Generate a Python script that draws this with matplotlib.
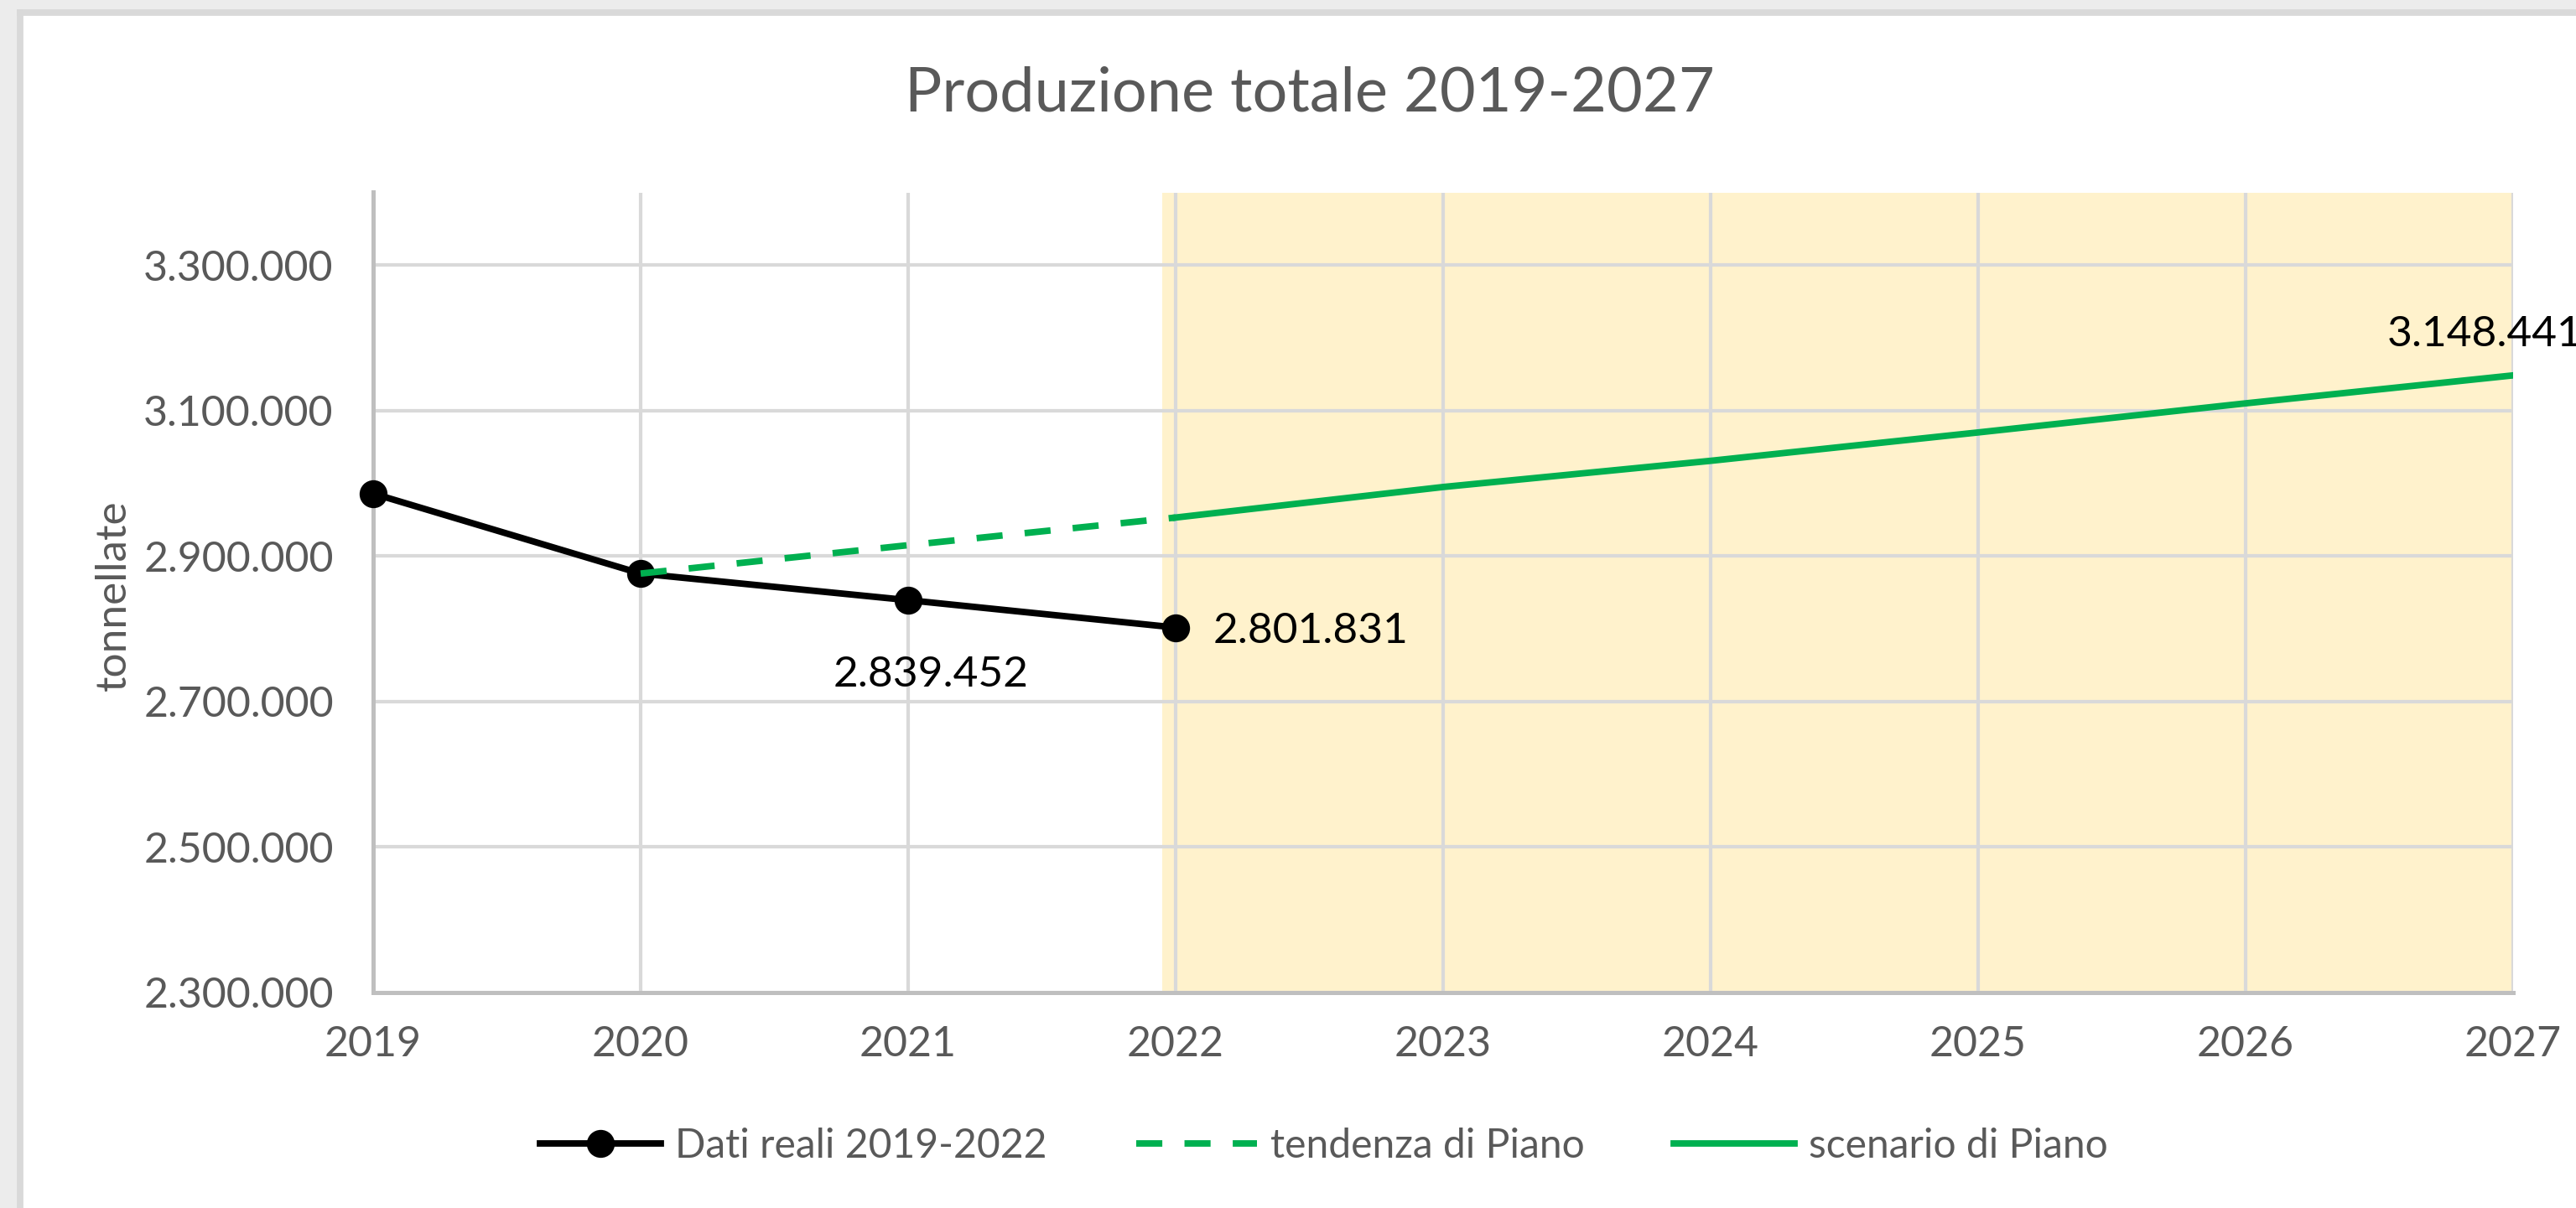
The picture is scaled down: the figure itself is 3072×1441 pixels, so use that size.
"""Produzione totale 2019-2027: dati reali, tendenza e scenario di Piano."""
import matplotlib
matplotlib.use("Agg")
import matplotlib.pyplot as plt
from matplotlib.patches import Rectangle
from matplotlib.ticker import FuncFormatter

plt.rcParams["font.family"] = ["Lato", "DejaVu Sans"]

years = [2019, 2020, 2021, 2022, 2023, 2024, 2025, 2026, 2027]

real_years = [2019, 2020, 2021, 2022]
real_vals = [2986000, 2876000, 2839452, 2801831]

trend_years = [2020, 2021, 2022]
trend_vals = [2876000, 2915000, 2953000]

scen_years = [2022, 2023, 2024, 2025, 2026, 2027]
scen_vals = [2953000, 2995000, 3031000, 3070000, 3110000, 3148441]

yticks = [2300000, 2500000, 2700000, 2900000, 3100000, 3300000]

labels = [
    # (year, value, text, dx_pt, dy_pt, ha)
    (2021, 2839452, "2.839.452", 9.7, -37.0, "center"),
    (2022, 2801831, "2.801.831", 16.0, -6.8, "left"),
    (2027, 3148441, "3.148.441", -54.0, 12.6, "left"),
]

W, H, DPI = 3072, 1441, 200
GREEN = "#00B050"
GREY_TXT = "#595959"

fig = plt.figure(figsize=(W / DPI, H / DPI), dpi=DPI, facecolor="white")

# outer frame (light grey canvas + border like the Excel screenshot)
fig.patches.append(Rectangle((0, 0), 21 / W, 1, transform=fig.transFigure,
                             color="#ECECEC", zorder=0))
fig.patches.append(Rectangle((0, 1 - 12 / H), 1, 12 / H, transform=fig.transFigure,
                             color="#ECECEC", zorder=0))
fig.patches.append(Rectangle((21 / W, 0), 5 / W, 1 - 12 / H, transform=fig.transFigure,
                             color="#D9D9D9", zorder=0))
fig.patches.append(Rectangle((21 / W, 1 - 17 / H), 1, 5 / H, transform=fig.transFigure,
                             color="#D9D9D9", zorder=0))

ax = fig.add_axes([445 / W, 1 - 1184 / H, (2997 - 445) / W, (1184 - 229.5) / H])
ax.set_facecolor("none")

ax.axvspan(2021.95, 2027, color="#FFF2CC", zorder=0.1, lw=0)

ax.plot(real_years, real_vals, color="black", lw=2.8, marker="o", ms=11,
        zorder=3, clip_on=False, label="Dati reali 2019-2022")
ax.plot(trend_years, trend_vals, color=GREEN, lw=2.8, dashes=(4.0, 3.4),
        dash_capstyle="butt", zorder=4, label="tendenza di Piano")
ax.plot(scen_years, scen_vals, color=GREEN, lw=2.8, zorder=4, label="scenario di Piano")

for x, y, txt, dx, dy, ha in labels:
    ax.annotate(txt, (x, y), xytext=(dx, dy), textcoords="offset points",
                ha=ha, va="baseline", fontsize=18.5, color="black",
                annotation_clip=False, zorder=6)

ax.set_xlim(2019, 2027)
ax.set_ylim(2300000, 3400000)
ax.set_xticks(years)
ax.set_yticks(yticks)
ax.yaxis.set_major_formatter(FuncFormatter(lambda v, p: f"{v:,.0f}".replace(",", ".")))

ax.grid(True, color="#D9D9D9", lw=1.5)
ax.set_axisbelow(True)
for s in ("top", "right"):
    ax.spines[s].set_visible(False)
for s in ("left", "bottom"):
    ax.spines[s].set_color("#BFBFBF")
    ax.spines[s].set_linewidth(1.8)

ax.tick_params(axis="both", length=0, labelsize=18, labelcolor=GREY_TXT)
ax.tick_params(axis="y", pad=17)
ax.tick_params(axis="x", pad=14)

fig.text(136 / W, 1 - 710 / H, "tonnellate", rotation=90, ha="center", va="center",
         fontsize=18.5, color=GREY_TXT)
fig.text(1562 / W, 1 - 112 / H, "Produzione totale 2019-2027", ha="center", va="center",
         fontsize=26.6, color=GREY_TXT)

fig.legend(loc="center", bbox_to_anchor=(1579 / W, 1 - 1367 / H), ncol=3,
           frameon=False, fontsize=17.3, labelcolor=GREY_TXT,
           handlelength=3.0, handletextpad=0.35, columnspacing=2.2)

fig.savefig("out.png", dpi=DPI, facecolor="white")
